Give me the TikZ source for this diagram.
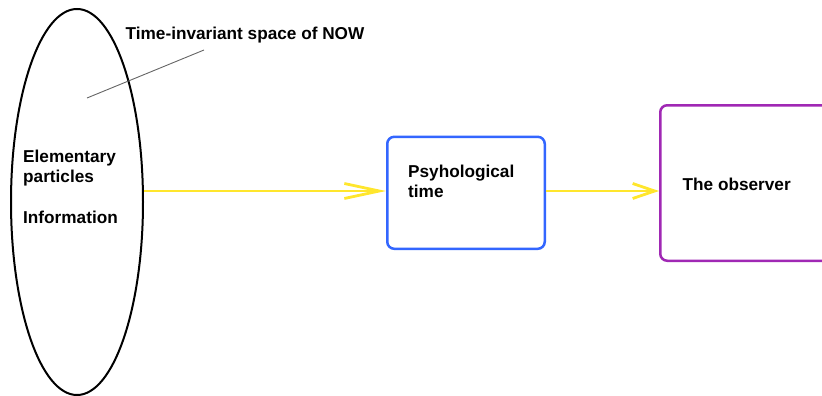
\documentclass[tikz,border=0pt]{standalone}
\usepackage{fontspec}
\setmainfont{Liberation Sans}
\usetikzlibrary{shapes.geometric,arrows.meta}
\definecolor{flowyellow}{RGB}{255,230,45}
\definecolor{psyblue}{RGB}{51,102,255}
\definecolor{obspurple}{RGB}{160,40,180}
\begin{document}
\begin{tikzpicture}[x=1pt,y=-1pt,
  lbl/.style={font=\fontsize{17.2}{20.5}\selectfont\bfseries, inner sep=0pt, align=left},
  flow/.style={draw=flowyellow, line width=2.8pt},
  card/.style={rounded corners=7pt, line width=2.5pt, inner sep=0pt}]
  \clip (0,0) rectangle (822,396);
  % the time-invariant space
  \node[ellipse, draw, line width=2pt, minimum width=132pt, minimum height=386pt, inner sep=0pt] (space) at (77,202) {};
  \node[lbl, anchor=north west] (spacetext) at (23,149.8) {Elementary\\particles\\[20.5pt]Information};
  % its caption and pointer
  \node[lbl, anchor=base west] (nowlabel) at (125.5,39.3) {Time-invariant space of NOW};
  \coordinate (pin) at (87,98);
  \coordinate (pend) at (204,50);
  \draw[draw={rgb,255:red,100;green,100;blue,100}, line width=0.9pt] (pin) -- (pend);
  % psychological time
  \node[card, draw=psyblue, minimum width=157.5pt, minimum height=112pt] (psy) at (466,192.8) {};
  \node[lbl, anchor=north west] (psytext) at (408,164.5) {Psyhological\\time};
  % the observer
  \node[card, draw=obspurple, minimum width=200pt, minimum height=155.5pt] (obs) at (760.25,183) {};
  \node[lbl, anchor=base west] (obstext) at (682.5,190.7) {The observer};
  % flows
  \draw[flow, -{Straight Barb[length=35pt,width=15pt]}] (space.east |- 0,191) -- (psy.west |- 0,191);
  \draw[flow, -{Straight Barb[length=22pt,width=15pt]}] (psy.east |- 0,191) -- (obs.west |- 0,191);
\end{tikzpicture}
\end{document}
